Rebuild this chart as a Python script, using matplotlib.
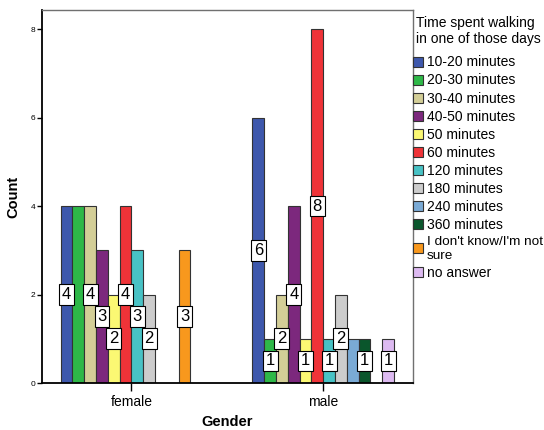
import matplotlib
matplotlib.use("Agg")
import matplotlib.pyplot as plt
from matplotlib.patches import Patch
import numpy as np

plt.rcParams['font.family'] = ['Liberation Sans', 'DejaVu Sans']

genders = ["female", "male"]
categories = ["10-20 minutes", "20-30 minutes", "30-40 minutes", "40-50 minutes",
              "50 minutes", "60 minutes", "120 minutes", "180 minutes",
              "240 minutes", "360 minutes", "I don't know/I'm not\nsure", "no answer"]
colors = ["#3E58AC", "#2EB848", "#D3CE97", "#7C287D", "#FBF873", "#EF3338",
          "#48C2C5", "#CCCCCC", "#7AAAD5", "#0A562C", "#F8981D", "#DDBAF1"]
female_counts = [4, 4, 4, 3, 2, 4, 3, 2, 0, 0, 3, 0]
male_counts = [6, 1, 2, 4, 1, 8, 1, 2, 1, 1, 0, 1]
female_show = [1, 0, 1, 1, 1, 1, 1, 1, 0, 0, 1, 0]
male_show = [1, 1, 1, 1, 1, 1, 1, 1, 0, 1, 0, 1]
y_ticks = [0, 2, 4, 6, 8]

fig = plt.figure(figsize=(5.44, 4.30), dpi=100)
ax = fig.add_axes([41.5/544, 47/430, (413-41.5)/544, (383-10)/430])

n = len(categories)
bw = 0.0615
offsets = (np.arange(n) - (n - 1) / 2) * bw
counts = [female_counts, male_counts]
shows = [female_show, male_show]
for gi in range(len(genders)):
    for ci in range(n):
        v = counts[gi][ci]
        if v <= 0:
            continue
        x = gi + offsets[ci]
        ax.bar(x, v, width=bw, color=colors[ci], edgecolor="#333333", linewidth=0.8, zorder=2)
for gi in range(len(genders)):
    for ci in range(n):
        v = counts[gi][ci]
        if v <= 0 or not shows[gi][ci]:
            continue
        x = gi + offsets[ci]
        ax.text(x, v / 2, str(v), ha="center", va="center", fontsize=12, zorder=5,
                bbox=dict(boxstyle="square,pad=0.17", facecolor="white",
                          edgecolor="black", linewidth=0.8))

ax.set_xlim(-0.469, 1.468)
ax.set_ylim(0, 8.43)
ax.set_xticks(range(len(genders)))
ax.set_xticklabels(genders, fontsize=10)
ax.set_yticks(y_ticks)
ax.set_yticklabels([str(t) for t in y_ticks], fontsize=6)
ax.tick_params(axis="x", direction="out", length=5.5, width=1, pad=3)
ax.tick_params(axis="y", direction="out", length=3.5, width=1, pad=1)
for s in ["left", "bottom"]:
    ax.spines[s].set_color("black")
    ax.spines[s].set_linewidth(1.3)
for s in ["top", "right"]:
    ax.spines[s].set_color("#707070")
    ax.spines[s].set_linewidth(1.0)
ax.set_xlabel("Gender", fontsize=10.5, fontweight="bold", labelpad=4.5)
ax.set_ylabel("Count", fontsize=10.5, fontweight="bold", labelpad=7)

handles = [Patch(facecolor=c, edgecolor="#333333", linewidth=0.8) for c in colors]
leg = ax.legend(handles, categories, loc="upper left", bbox_to_anchor=(0.998, 0.987),
                frameon=False, fontsize=10, title="Time spent walking\nin one of those days",
                title_fontsize=10, handlelength=0.72, handleheight=0.72,
                handletextpad=0.3, labelspacing=0.29, borderaxespad=0.0,
                borderpad=0.05)
leg._legend_box.align = "center"
leg._legend_box.sep = 7
leg.get_texts()[10].set_fontsize(9.7)

fig.savefig("out.png", dpi=100)
